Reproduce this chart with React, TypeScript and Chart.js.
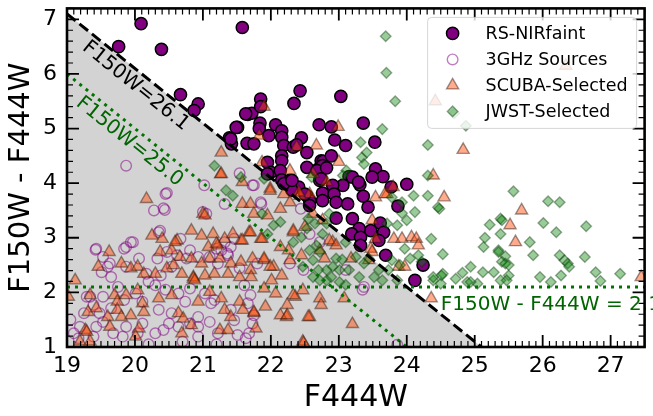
import React, { useEffect, useRef } from 'react';
import { Chart, registerables } from 'chart.js';

Chart.register(...registerables);

type Pt = [number, number];

// ---------------- data (F444W, F150W - F444W) ----------------
const rsNirFaint: Pt[] = [
  [20.09, 6.92], [21.58, 6.85], [19.76, 6.5], [20.39, 6.45], [20.67, 5.62], [20.93, 5.45], [20.87, 5.33],
  [21.51, 5.02], [21.39, 4.83], [21.42, 4.72], [21.66, 5.26], [21.72, 5.28], [21.65, 4.73], [21.75, 4.72],
  [21.85, 5.54], [21.85, 5.4], [22.43, 5.69], [22.34, 5.46], [22.71, 5.07], [21.84, 5.1], [21.83, 5.0],
  [21.97, 4.87], [22.07, 5.07], [22.16, 4.96], [22.16, 4.84], [22.19, 4.69], [22.45, 4.83], [22.33, 4.66],
  [22.53, 4.56], [22.16, 4.5], [22.16, 4.41], [21.95, 4.38], [22.0, 4.2], [22.14, 4.23], [22.16, 4.06],
  [22.28, 4.05], [22.41, 3.93], [22.31, 3.87], [22.53, 4.29], [22.7, 4.26], [22.74, 4.41], [22.72, 4.05],
  [22.53, 3.77], [22.57, 3.68], [23.03, 5.59], [22.89, 5.03], [23.36, 5.1], [22.94, 4.79], [23.1, 4.69],
  [23.53, 4.75], [22.38, 4.7], [22.77, 4.4], [22.89, 4.5], [22.76, 4.32], [22.68, 4.23], [22.82, 4.28],
  [23.54, 4.26], [23.65, 4.12], [23.15, 4.12], [24.0, 3.98], [23.87, 3.58], [23.77, 3.93], [23.2, 4.11],
  [23.49, 4.11], [23.31, 3.97], [23.06, 3.96], [22.91, 3.96], [22.74, 4.08], [22.5, 3.8], [22.76, 3.82],
  [22.93, 3.8], [23.36, 3.76], [22.76, 3.68], [22.96, 3.65], [23.13, 3.62], [23.43, 3.56], [22.57, 3.59],
  [22.96, 3.36], [23.2, 3.35], [23.61, 3.27], [23.66, 3.1], [23.47, 3.13], [23.3, 3.17], [23.19, 3.07],
  [23.32, 3.01], [23.59, 2.95], [23.32, 2.86], [23.69, 2.68], [24.24, 2.5], [24.12, 2.22], [21.41, 4.81],
  [21.49, 5.02], [21.63, 5.27], [21.95, 4.17], [23.29, 4.02], [22.19, 3.99], [22.31, 4.05],
];

const ghz3Sources: Pt[] = [
  [20.45, 3.8], [20.28, 3.5], [20.44, 3.51], [21.05, 3.44], [20.35, 3.1], [19.94, 2.92], [19.84, 2.8],
  [19.42, 2.78], [19.53, 2.65], [19.6, 2.47], [19.65, 2.28], [19.51, 2.37], [19.87, 2.47], [20.06, 2.62],
  [20.17, 2.34], [20.33, 2.62], [20.47, 2.74], [20.62, 2.68], [20.54, 2.47], [20.93, 2.65], [21.1, 2.65],
  [21.2, 2.8], [21.36, 2.71], [21.32, 2.92], [21.46, 2.98], [21.22, 2.53], [21.54, 2.44], [21.61, 2.13],
  [21.66, 1.8], [21.41, 1.68], [21.46, 1.49], [21.68, 1.25], [21.73, 1.43], [19.34, 1.92], [19.39, 1.77],
  [19.19, 1.37], [19.1, 1.25], [19.17, 1.16], [19.43, 1.37], [19.53, 1.46], [19.39, 1.19], [19.68, 1.25],
  [19.87, 1.37], [19.82, 1.19], [20.04, 1.25], [20.11, 1.43], [20.3, 1.25], [20.35, 1.68], [20.5, 1.43],
  [20.42, 1.31], [20.54, 1.62], [20.74, 1.83], [20.64, 1.37], [20.81, 1.43], [20.93, 1.55], [20.93, 1.37],
  [21.1, 1.46], [20.81, 2.07], [20.64, 1.98], [21.03, 1.98], [21.17, 1.86], [20.38, 2.31], [20.3, 2.13],
  [20.01, 1.98], [19.84, 1.86], [20.11, 1.83], [19.53, 1.92], [19.65, 1.71], [21.51, 1.22], [20.93, 1.19],
  [21.22, 1.25], [19.87, 4.32], [20.47, 3.82], [21.02, 3.96], [21.54, 4.18], [21.75, 3.96], [21.85, 3.65],
  [20.42, 3.54], [21.32, 3.62], [19.43, 2.8], [19.87, 2.83], [19.97, 2.92], [19.63, 2.53], [19.29, 1.92],
  [19.48, 1.62], [20.37, 3.13], [21.0, 3.47], [20.67, 2.98], [20.81, 2.77], [20.76, 2.62], [21.27, 2.77],
  [21.41, 2.83], [21.37, 2.68], [21.12, 1.8], [21.63, 1.16], [21.75, 1.58], [21.86, 3.62], [22.44, 3.53],
  [21.73, 3.96], [22.57, 3.07], [22.72, 2.92], [22.28, 2.53], [22.48, 2.41], [23.1, 2.41], [23.37, 2.1],
  [23.35, 2.05], [21.7, 1.95], [21.8, 2.53], [23.86, 1.04], [19.05, 1.5], [19.25, 1.62], [20.2, 1.05],
  [20.7, 1.1], [21.2, 1.05], [20.2, 2.2], [20.45, 2.05], [19.75, 2.1],
];

const scubaSelected: Pt[] = [
  [20.17, 3.71], [21.0, 3.44], [21.26, 4.16], [19.62, 2.74], [19.12, 2.22], [19.46, 2.47], [19.8, 2.53],
  [19.94, 2.44], [20.04, 2.47], [20.13, 2.34], [20.25, 3.04], [20.4, 2.98], [20.62, 2.95], [20.83, 3.13],
  [20.98, 3.04], [21.15, 3.07], [21.08, 2.83], [21.22, 2.86], [21.32, 2.98], [21.56, 2.95], [21.68, 3.1],
  [20.37, 2.74], [20.54, 2.77], [20.66, 2.65], [20.83, 2.62], [20.98, 2.53], [21.1, 2.62], [21.25, 2.62],
  [21.41, 2.53], [21.56, 2.56], [21.7, 2.41], [20.3, 2.34], [20.47, 2.44], [20.57, 2.5], [20.69, 2.34],
  [20.86, 2.28], [21.03, 2.31], [21.17, 2.34], [21.37, 2.34], [21.54, 2.28], [19.34, 1.95], [19.7, 1.95],
  [19.74, 1.83], [19.87, 1.95], [20.04, 2.04], [19.31, 1.64], [19.43, 1.71], [19.6, 1.55], [19.74, 1.68],
  [19.8, 1.55], [19.94, 1.58], [20.11, 1.8], [20.13, 1.64], [20.35, 1.89], [20.54, 1.95], [20.64, 1.62],
  [20.71, 1.52], [20.83, 1.4], [20.93, 1.83], [21.1, 2.01], [21.27, 1.89], [21.32, 1.68], [21.25, 1.31],
  [21.37, 1.31], [21.54, 1.83], [21.59, 1.68], [21.41, 1.55], [21.75, 1.62], [19.27, 1.31], [19.19, 1.1],
  [19.34, 1.1], [20.06, 1.34], [20.01, 1.19], [20.69, 1.25], [19.63, 1.37], [21.78, 1.34], [20.86, 2.25],
  [20.88, 2.22], [19.29, 1.28], [21.03, 3.41], [20.59, 2.92], [21.2, 2.89], [21.44, 3.07], [21.58, 2.95],
  [21.7, 3.1], [21.85, 2.98], [21.9, 2.59], [22.04, 2.47], [22.01, 2.22], [22.16, 2.31], [22.28, 2.59],
  [22.33, 3.1], [22.47, 2.04], [22.57, 1.55], [22.23, 1.55], [22.14, 1.58], [21.92, 1.74], [22.36, 1.92],
  [22.47, 1.1], [21.27, 4.56], [21.27, 4.17], [21.58, 4.02], [21.58, 3.62], [21.99, 3.9], [22.28, 4.23],
  [22.67, 4.69], [21.9, 5.4], [21.83, 4.87], [22.38, 4.66], [22.57, 3.8], [22.19, 3.8], [22.43, 3.77],
  [21.87, 4.38], [21.99, 3.86], [22.28, 3.65], [21.75, 3.44], [21.95, 3.41], [22.14, 3.53], [21.87, 2.98],
  [22.33, 3.13], [22.45, 2.68], [22.26, 2.77], [22.14, 2.83], [21.99, 2.47], [21.9, 2.62], [21.73, 2.62],
  [21.71, 2.28], [21.9, 2.07], [22.07, 1.98], [22.33, 1.95], [21.75, 1.64], [22.24, 1.58], [22.24, 1.77],
  [22.55, 1.55], [22.72, 1.89], [22.74, 1.77], [23.08, 1.89], [23.2, 1.42], [22.48, 1.07], [22.72, 2.77],
  [22.79, 2.62], [22.91, 2.92], [22.5, 3.2], [22.76, 3.32], [23.49, 3.32], [23.47, 2.8], [23.54, 2.98],
  [23.81, 2.98], [23.93, 2.98], [24.07, 3.01], [24.14, 2.98], [24.17, 2.86], [23.88, 2.47], [23.97, 2.47],
  [23.71, 3.8], [24.39, 4.14], [22.62, 4.17], [22.82, 4.02], [22.41, 3.83], [21.7, 3.62], [22.62, 3.44],
  [22.99, 5.03], [23.0, 4.39], [26.34, 6.15], [24.42, 5.5], [24.83, 4.61], [24.55, 3.74], [23.54, 3.74],
  [23.68, 3.8], [23.8, 3.93], [25.69, 3.5], [25.6, 2.92], [25.52, 3.23], [24.36, 1.89], [23.44, 2.59],
  [23.49, 2.74], [22.86, 2.95], [22.96, 2.86], [23.18, 2.62], [27.45, 2.28], [19.02, 1.92],
];

const jwstSelected: Pt[] = [
  [23.69, 6.69], [23.7, 6.02], [23.83, 5.5], [23.64, 4.99], [23.32, 4.75], [23.41, 4.56], [23.34, 4.47],
  [23.37, 4.35], [23.11, 4.23], [23.06, 4.14], [24.31, 4.7], [24.31, 3.77], [25.57, 3.85], [26.08, 3.67],
  [26.25, 3.65], [24.87, 5.05], [24.7, 5.28], [24.48, 3.53], [25.22, 3.24], [25.38, 3.35], [25.4, 3.32],
  [25.38, 3.07], [25.15, 3.0], [25.13, 2.83], [25.81, 2.92], [26.01, 3.27], [26.2, 3.1], [26.64, 3.21],
  [24.53, 2.7], [24.94, 2.47], [25.12, 2.37], [25.35, 2.77], [25.45, 2.66], [25.4, 2.56], [25.5, 2.5],
  [25.86, 2.68], [26.25, 2.68], [26.32, 2.59], [26.37, 2.53], [26.39, 2.47], [26.62, 2.65], [26.78, 2.37],
  [27.14, 2.34], [25.96, 2.28], [26.27, 2.31], [24.53, 2.34], [24.82, 2.36], [25.28, 2.37], [24.89, 2.19],
  [24.72, 2.25], [24.51, 2.31], [25.38, 2.22], [25.5, 2.31], [25.04, 2.16], [26.12, 2.19], [26.85, 2.21],
  [24.39, 2.22], [24.12, 3.47], [24.0, 3.32], [23.86, 3.23], [23.71, 3.26], [24.36, 2.98], [24.39, 2.28],
  [24.5, 2.16], [23.97, 2.8], [24.05, 2.62], [23.78, 2.59], [23.73, 2.41], [23.59, 2.41], [23.44, 2.62],
  [23.37, 2.53], [23.52, 2.28], [23.64, 2.22], [23.1, 2.92], [23.25, 2.65], [23.15, 2.41], [23.3, 2.28],
  [22.96, 2.62], [23.05, 2.6], [22.91, 2.47], [22.82, 2.41], [22.82, 2.22], [22.7, 2.41], [22.62, 2.59],
  [22.89, 2.28], [23.01, 2.19], [23.1, 2.14], [22.76, 3.07], [22.82, 3.26], [22.86, 3.44], [22.65, 3.26],
  [22.53, 3.17], [22.45, 3.01], [22.57, 2.77], [22.72, 2.74], [22.47, 2.47], [22.62, 2.28], [22.72, 2.22],
  [23.01, 2.41], [22.14, 3.29], [22.04, 3.23], [21.95, 3.07], [21.87, 3.44], [22.55, 3.35], [22.67, 2.86],
  [22.33, 2.92], [24.31, 4.14], [24.46, 3.56], [23.93, 3.45], [24.1, 3.77], [23.93, 3.65], [23.78, 3.74],
  [24.17, 2.68], [24.22, 2.56], [23.86, 2.22], [23.9, 2.5], [21.17, 4.32], [21.34, 3.87], [21.44, 3.77],
  [21.9, 4.08], [22.6, 4.11], [21.56, 4.11], [25.35, 2.74], [25.45, 2.53], [25.47, 2.22], [24.94, 2.19],
];

// guide lines
const cutF150W261: Pt[] = [[19, 7.1], [25.1, 1]];
const cutF150W250: Pt[] = [[19, 6.0], [24, 1]];
const colorCut: Pt[] = [[19, 2.1], [27.5, 2.1]];

// axes
const xRange: Pt = [19, 27.5];
const yRange: Pt = [1, 7.2];
const xTickValues = [19, 20, 21, 22, 23, 24, 25, 26, 27];
const yTickValues = [1, 2, 3, 4, 5, 6, 7];
const xMinorStep = 0.1;
const yMinorStep = 0.2;

const xTitle = 'F444W';
const yTitle = 'F150W - F444W';
const seriesNames = ['RS-NIRfaint', '3GHz Sources', 'SCUBA-Selected', 'JWST-Selected'];
const label261 = { text: 'F150W=26.1', at: [20.01, 5.78] as Pt };
const label250 = { text: 'F150W=25.0', at: [19.92, 4.76] as Pt };
const labelColor = { text: 'F150W - F444W = 2.1', at: [24.5, 1.68] as Pt };

// ---------------- styles ----------------
const FONT = '"DejaVu Sans", sans-serif';
const GREEN_LINE = '#007400';
const GREEN_TEXT = '#006400';

const styles = [
  { pointStyle: 'circle', radius: 6.1, bg: '#800080', border: '#000000', bw: 1.5 },
  { pointStyle: 'circle', radius: 5.3, bg: 'rgba(0,0,0,0)', border: 'rgba(128,0,128,0.5)', bw: 1.4 },
  { pointStyle: 'triangle', radius: 7, bg: 'rgba(255,69,0,0.45)', border: 'rgba(40,20,10,0.45)', bw: 1.4 },
  { pointStyle: 'rectRot', radius: 5.3, bg: 'rgba(0,128,0,0.4)', border: 'rgba(0,50,0,0.4)', bw: 1.4 },
];

const toXY = (pts: Pt[]) => pts.map(([x, y]) => ({ x, y }));

function drawMarker(ctx: CanvasRenderingContext2D, s: any, x: number, y: number) {
  const r = s.radius;
  ctx.beginPath();
  if (s.pointStyle === 'circle') {
    ctx.arc(x, y, r, 0, Math.PI * 2);
  } else if (s.pointStyle === 'triangle') {
    for (let k = 0; k < 3; k++) {
      const a = (k * 2 * Math.PI) / 3;
      const px = x + Math.sin(a) * r;
      const py = y - Math.cos(a) * r;
      if (k === 0) ctx.moveTo(px, py); else ctx.lineTo(px, py);
    }
    ctx.closePath();
  } else {
    ctx.moveTo(x - r, y);
    ctx.lineTo(x, y - r);
    ctx.lineTo(x + r, y);
    ctx.lineTo(x, y + r);
    ctx.closePath();
  }
  ctx.fillStyle = s.bg;
  ctx.fill();
  ctx.lineWidth = s.bw;
  ctx.strokeStyle = s.border;
  ctx.stroke();
}

const annotationPlugin = {
  id: 'annotationPlugin',
  afterDatasetsDraw(chart: any) {
    const { ctx, scales } = chart;
    const xs = scales.x;
    const ys = scales.y;
    const ang = Math.atan2(
      ys.getPixelForValue(1) - ys.getPixelForValue(2),
      xs.getPixelForValue(20) - xs.getPixelForValue(19)
    );
    ctx.save();
    ctx.font = `20px ${FONT}`;
    ctx.textAlign = 'center';
    ctx.textBaseline = 'middle';
    const rot = (lab: { text: string; at: Pt }, color: string) => {
      ctx.save();
      ctx.translate(xs.getPixelForValue(lab.at[0]), ys.getPixelForValue(lab.at[1]));
      ctx.rotate(ang);
      ctx.fillStyle = color;
      ctx.fillText(lab.text, 0, 0);
      ctx.restore();
    };
    rot(label261, '#000000');
    rot(label250, GREEN_TEXT);
    ctx.font = `20px ${FONT}`;
    ctx.textAlign = 'left';
    ctx.textBaseline = 'alphabetic';
    ctx.fillStyle = GREEN_TEXT;
    ctx.fillText(labelColor.text, xs.getPixelForValue(labelColor.at[0]), ys.getPixelForValue(labelColor.at[1]));
    ctx.restore();
  },
};

const framePlugin = {
  id: 'framePlugin',
  afterDraw(chart: any) {
    const { ctx, chartArea: a, scales } = chart;
    const xs = scales.x;
    const ys = scales.y;
    ctx.save();
    ctx.strokeStyle = '#000';
    ctx.lineWidth = 1.2;
    ctx.beginPath();
    const nx = Math.round((xRange[1] - xRange[0]) / xMinorStep);
    for (let i = 0; i <= nx; i++) {
      const v = xRange[0] + i * xMinorStep;
      if (xTickValues.some((t) => Math.abs(t - v) < 1e-6)) continue;
      const p = xs.getPixelForValue(v);
      ctx.moveTo(p, a.bottom); ctx.lineTo(p, a.bottom - 6);
      ctx.moveTo(p, a.top); ctx.lineTo(p, a.top + 6);
    }
    const ny = Math.round((yRange[1] - yRange[0]) / yMinorStep);
    for (let i = 0; i <= ny; i++) {
      const v = yRange[0] + i * yMinorStep;
      if (yTickValues.some((t) => Math.abs(t - v) < 1e-6)) continue;
      const p = ys.getPixelForValue(v);
      ctx.moveTo(a.left, p); ctx.lineTo(a.left + 6, p);
      ctx.moveTo(a.right, p); ctx.lineTo(a.right - 6, p);
    }
    ctx.stroke();
    ctx.lineWidth = 1.8;
    ctx.beginPath();
    xTickValues.forEach((v) => {
      const p = xs.getPixelForValue(v);
      ctx.moveTo(p, a.bottom); ctx.lineTo(p, a.bottom - 12);
      ctx.moveTo(p, a.top); ctx.lineTo(p, a.top + 12);
    });
    yTickValues.forEach((v) => {
      const p = ys.getPixelForValue(v);
      ctx.moveTo(a.left, p); ctx.lineTo(a.left + 12, p);
      ctx.moveTo(a.right, p); ctx.lineTo(a.right - 12, p);
    });
    ctx.stroke();
    ctx.lineWidth = 2.6;
    ctx.strokeRect(a.left, a.top, a.right - a.left, a.bottom - a.top);
    ctx.restore();
  },
};

const legendPlugin = {
  id: 'legendPlugin',
  afterDraw(chart: any) {
    const { ctx, chartArea: a } = chart;
    const w = 209;
    const h = 111;
    const x0 = a.right - 8 - w;
    const y0 = a.top + 9;
    ctx.save();
    ctx.beginPath();
    if ((ctx as any).roundRect) (ctx as any).roundRect(x0, y0, w, h, 4);
    else ctx.rect(x0, y0, w, h);
    ctx.fillStyle = 'rgba(255,255,255,0.8)';
    ctx.fill();
    ctx.lineWidth = 1;
    ctx.strokeStyle = 'rgba(204,204,204,0.8)';
    ctx.stroke();
    ctx.font = `17.5px ${FONT}`;
    ctx.textAlign = 'left';
    ctx.textBaseline = 'middle';
    seriesNames.forEach((name, i) => {
      const cy = y0 + 16 + i * 26;
      drawMarker(ctx, styles[i], x0 + 25, cy);
      ctx.fillStyle = '#000';
      ctx.fillText(name, x0 + 58, cy + 1);
    });
    ctx.restore();
  },
};

export default function App() {
  const ref = useRef<HTMLCanvasElement | null>(null);

  useEffect(() => {
    if (!ref.current) return;
    const scatterSets = [rsNirFaint, ghz3Sources, scubaSelected, jwstSelected].map((pts, i) => ({
      type: 'scatter' as const,
      label: seriesNames[i],
      data: toXY(pts),
      pointStyle: styles[i].pointStyle,
      pointRadius: styles[i].radius,
      pointBackgroundColor: styles[i].bg,
      pointBorderColor: styles[i].border,
      pointBorderWidth: styles[i].bw,
      backgroundColor: styles[i].bg,
      borderColor: styles[i].border,
      order: 6 - i,
      clip: 0,
    }));

    const chart = new Chart(ref.current, {
      type: 'scatter',
      data: {
        datasets: [
          {
            type: 'line',
            label: 'region',
            data: toXY(cutF150W261),
            borderWidth: 0,
            borderColor: 'rgba(0,0,0,0)',
            backgroundColor: 'rgb(211,211,211)',
            fill: 'start',
            pointRadius: 0,
            order: 20,
            clip: 0,
          } as any,
          ...scatterSets,
          {
            type: 'line',
            label: 'F150W=25.0',
            data: toXY(cutF150W250),
            borderColor: GREEN_LINE,
            borderWidth: 3,
            borderDash: [3, 5],
            pointRadius: 0,
            fill: false,
            order: 2,
            clip: 0,
          } as any,
          {
            type: 'line',
            label: 'color cut',
            data: toXY(colorCut),
            borderColor: GREEN_LINE,
            borderWidth: 3,
            borderDash: [3, 5],
            pointRadius: 0,
            fill: false,
            order: 2,
            clip: 0,
          } as any,
          {
            type: 'line',
            label: 'F150W=26.1',
            data: toXY(cutF150W261),
            borderColor: '#000000',
            borderWidth: 3,
            borderDash: [11, 5],
            pointRadius: 0,
            fill: false,
            order: 1,
            clip: 0,
          } as any,
        ],
      },
      options: {
        responsive: false,
        animation: false,
        events: [],
        layout: { padding: { top: 7, right: 1, left: 0, bottom: 0 } },
        plugins: {
          legend: { display: false },
          tooltip: { enabled: false },
        },
        scales: {
          x: {
            type: 'linear',
            min: xRange[0],
            max: xRange[1],
            grid: { display: false, drawTicks: false },
            border: { display: false },
            afterBuildTicks: (s: any) => { s.ticks = xTickValues.map((v) => ({ value: v })); },
            afterFit: (s: any) => {
              s.height = 69;
              s.paddingLeft = 0; s.paddingRight = 0; s.paddingTop = 0; s.paddingBottom = 0;
            },
            ticks: {
              autoSkip: false,
              maxRotation: 0,
              padding: 6,
              color: '#000',
              font: { family: FONT, size: 22 },
            },
            title: {
              display: true,
              text: xTitle,
              color: '#000',
              font: { family: FONT, size: 30 },
              padding: { top: 0, bottom: 0 },
            },
          },
          y: {
            type: 'linear',
            min: yRange[0],
            max: yRange[1],
            grid: { display: false, drawTicks: false },
            border: { display: false },
            afterBuildTicks: (s: any) => { s.ticks = yTickValues.map((v) => ({ value: v })); },
            afterFit: (s: any) => {
              s.width = 67;
              s.paddingLeft = 0; s.paddingRight = 0; s.paddingTop = 0; s.paddingBottom = 0;
            },
            ticks: {
              autoSkip: false,
              padding: 10,
              color: '#000',
              font: { family: FONT, size: 22 },
            },
            title: {
              display: true,
              text: yTitle,
              color: '#000',
              font: { family: FONT, size: 29 },
              padding: { top: 4, bottom: 0 },
            },
          },
        },
      },
      plugins: [annotationPlugin, framePlugin, legendPlugin],
    } as any);

    return () => chart.destroy();
  }, []);

  return (
    <div style={{ position: 'fixed', left: 0, top: 0, width: 653, height: 416, background: '#fff' }}>
      <canvas ref={ref} width={653} height={416} style={{ display: 'block', width: 653, height: 416 }} />
    </div>
  );
}
